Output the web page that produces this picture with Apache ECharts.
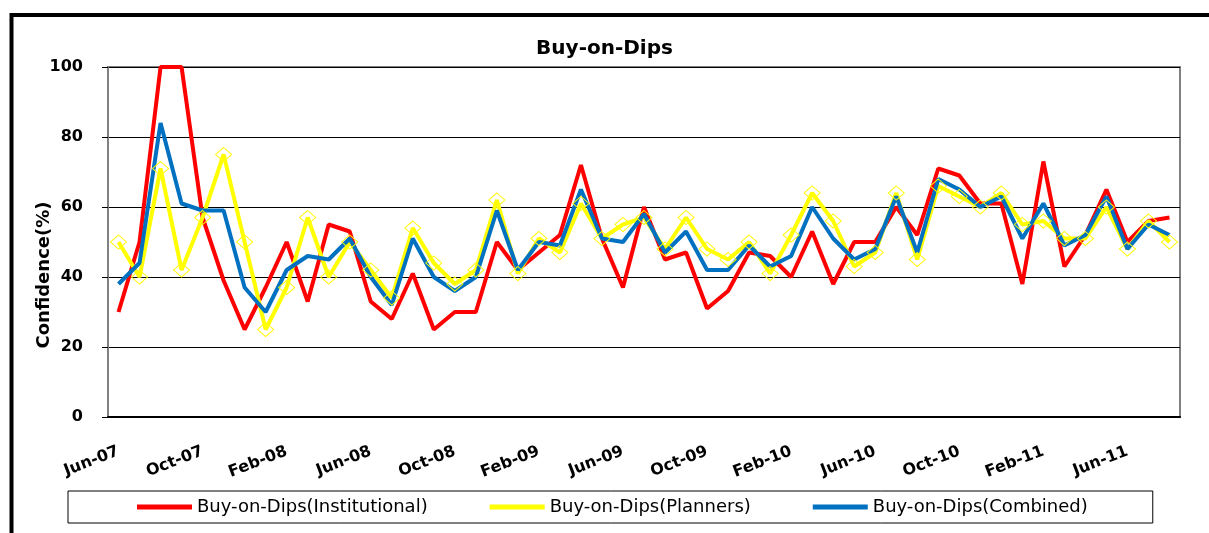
<!DOCTYPE html>
<html>
<head>
<meta charset="utf-8">
<script src="https://cdn.jsdelivr.net/npm/echarts@6/dist/echarts.min.js"></script>
<style>
  html, body { margin: 0; padding: 0; background: #fff; }
  #chart { width: 1209px; height: 533px; }
</style>
</head>
<body>
<div id="chart"></div>
<script>
// 月份 Jun-07 ~ Aug-11
let months = [
    'Jun-07','Jul-07','Aug-07','Sep-07','Oct-07','Nov-07','Dec-07',
    'Jan-08','Feb-08','Mar-08','Apr-08','May-08','Jun-08','Jul-08','Aug-08','Sep-08','Oct-08','Nov-08','Dec-08',
    'Jan-09','Feb-09','Mar-09','Apr-09','May-09','Jun-09','Jul-09','Aug-09','Sep-09','Oct-09','Nov-09','Dec-09',
    'Jan-10','Feb-10','Mar-10','Apr-10','May-10','Jun-10','Jul-10','Aug-10','Sep-10','Oct-10','Nov-10','Dec-10',
    'Jan-11','Feb-11','Mar-11','Apr-11','May-11','Jun-11','Jul-11','Aug-11'
];
let institutional = [
    30, 50, 100, 100, 57, 39, 25,
    37, 50, 33, 55, 53, 33, 28, 41, 25, 30, 30, 50,
    42, 47, 52, 72, 51, 37, 60, 45, 47, 31, 36, 47,
    46, 40, 53, 38, 50, 50, 60, 52, 71, 69, 61, 61,
    38, 73, 43, 52, 65, 50, 56, 57
];
let planners = [
    50, 40, 71, 42, 57, 75, 50,
    25, 37, 57, 40, 50, 42, 34, 54, 44, 38, 42, 62,
    41, 51, 47, 61, 51, 55, 57, 48, 57, 48, 45, 50,
    41, 52, 64, 56, 43, 47, 64, 45, 66, 63, 60, 64,
    55, 56, 51, 51, 60, 48, 56, 50
];
let combined = [
    38, 44, 84, 61, 59, 59, 37,
    30, 42, 46, 45, 51, 40, 32, 51, 40, 36, 40, 59,
    42, 50, 49, 65, 51, 50, 58, 47, 53, 42, 42, 49,
    43, 46, 60, 51, 45, 48, 63, 47, 68, 65, 60, 63,
    51, 61, 49, 52, 63, 48, 55, 52
];
let yTicks = { min: 0, max: 100, interval: 20 };

let chart = echarts.init(document.getElementById('chart'));
let boldFont = 'DejaVu Sans';

let option = {
    backgroundColor: '#fff',
    animation: false,
    title: {
        text: 'Buy-on-Dips',
        left: 'center',
        top: 34,
        textStyle: { fontFamily: boldFont, fontWeight: 'bold', fontSize: 20, color: '#000' }
    },
    //外框
    graphic: [{
        type: 'rect',
        silent: true,
        shape: { x: 11.5, y: 15, width: 1400, height: 700 },
        style: { fill: 'none', stroke: '#000', lineWidth: 4 }
    }],
    grid: {
        left: 108, right: 29, top: 67, bottom: 116,
        show: true, borderColor: '#808080', borderWidth: 2, backgroundColor: '#fff'
    },
    legend: {
        left: 68,
        top: 491,
        padding: [7, 65, 7, 69],
        borderColor: '#000',
        borderWidth: 1,
        itemWidth: 55,
        itemHeight: 5,
        itemGap: 62,
        textStyle: { fontFamily: 'DejaVu Sans', fontSize: 18, color: '#000' },
        data: [
            { name: 'Buy-on-Dips(Institutional)', icon: 'rect', itemStyle: { color: '#ff0000' } },
            { name: 'Buy-on-Dips(Planners)', icon: 'rect', itemStyle: { color: '#ffff00', borderWidth: 0 } },
            { name: 'Buy-on-Dips(Combined)', icon: 'rect', itemStyle: { color: '#0070c0' } }
        ]
    },
    xAxis: {
        type: 'category',
        data: months,
        boundaryGap: true,
        axisLine: { lineStyle: { color: '#000', width: 2 } },
        axisTick: { interval: 3, length: 6, lineStyle: { color: '#000', width: 1 } },
        axisLabel: {
            interval: 3,
            rotate: 21,
            margin: 34,
            fontFamily: boldFont,
            fontWeight: 'bold',
            fontSize: 16,
            color: '#000'
        },
        splitLine: { show: false }
    },
    yAxis: {
        type: 'value',
        min: yTicks.min,
        max: yTicks.max,
        interval: yTicks.interval,
        name: 'Confidence(%)',
        nameLocation: 'middle',
        nameGap: 55,
        nameMoveOverlap: false,
        nameTextStyle: {
            fontFamily: boldFont, fontWeight: 'bold', fontSize: 18, color: '#000',
            padding: [0, 66, 0, 0]
        },
        axisLine: { show: true, lineStyle: { color: '#808080', width: 2 } },
        axisTick: { show: true, length: 6, lineStyle: { color: '#000' } },
        axisLabel: { margin: 25, fontFamily: boldFont, fontWeight: 'bold', fontSize: 16, color: '#000' },
        splitLine: { show: true, lineStyle: { color: '#000', width: 1 } }
    },
    series: [
        {
            name: 'Buy-on-Dips(Institutional)',
            type: 'line',
            data: institutional,
            symbol: 'none',
            itemStyle: { color: '#ff0000' },
            lineStyle: { color: '#ff0000', width: 4 }
        },
        {
            name: 'Buy-on-Dips(Planners)',
            type: 'line',
            data: planners,
            symbol: 'diamond',
            symbolSize: [16, 14],
            itemStyle: { color: 'rgba(255,255,255,0)', borderColor: '#ffff00', borderWidth: 1 },
            lineStyle: { color: '#ffff00', width: 4 }
        },
        {
            name: 'Buy-on-Dips(Combined)',
            type: 'line',
            data: combined,
            symbol: 'none',
            itemStyle: { color: '#0070c0' },
            lineStyle: { color: '#0070c0', width: 4 }
        }
    ]
};
chart.setOption(option);

window.onresize = function () {
    chart.resize();
};
</script>
</body>
</html>
